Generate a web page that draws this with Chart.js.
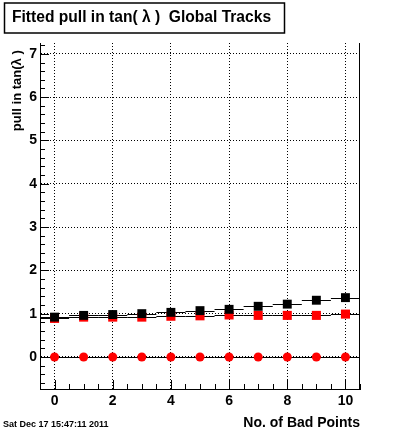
<!DOCTYPE html>
<html><head><meta charset="utf-8">
<script src="https://cdn.jsdelivr.net/npm/chart.js@4/dist/chart.umd.min.js"></script>
<style>html,body{margin:0;padding:0;background:#fff}</style>
</head><body>
<canvas id="c" width="400" height="433" style="display:block;width:400px;height:433px"></canvas>
<script>
const badPoints = [0, 1, 2, 3, 4, 5, 6, 7, 8, 9, 10];
const meanPull  = [0.92, 0.96, 0.98, 1.00, 1.03, 1.07, 1.10, 1.17, 1.22, 1.31, 1.37];
const sigmaPull = [0.89, 0.92, 0.92, 0.92, 0.94, 0.95, 0.97, 0.96, 0.96, 0.96, 0.99];
const zeroPull  = [0, 0, 0, 0, 0, 0, 0, 0, 0, 0, 0];
const xTickLabels = ['0', '2', '4', '6', '8', '10'];
const yTickLabels = ['0', '1', '2', '3', '4', '5', '6', '7'];
const titleText = 'Fitted pull in tan( \u03BB )  Global Tracks';
const yTitleText = 'pull in tan(\u03BB )\u00A0\u00A0';
const xTitleText = 'No. of Bad Points';
const dateText = 'Sat Dec 17 15:47:11 2011';

const FONT = '"Liberation Sans", Arial, Helvetica, sans-serif';

function pts(ys) { return badPoints.map((x, i) => ({x: x, y: ys[i]})); }

const binBars = {
  id: 'binBars',
  beforeDatasetsDraw(chart) {
    const ctx = chart.ctx, xs = chart.scales.x, ys = chart.scales.y;
    ctx.save();
    ctx.strokeStyle = '#000';
    ctx.lineWidth = 1;
    chart.data.datasets.forEach(ds => {
      ds.data.forEach(p => {
        const y = Math.round(ys.getPixelForValue(p.y)) + 0.5;
        ctx.beginPath();
        ctx.moveTo(xs.getPixelForValue(p.x - 0.5), y);
        ctx.lineTo(xs.getPixelForValue(p.x + 0.5), y);
        ctx.stroke();
      });
    });
    ctx.restore();
  }
};

const frameTicks = {
  id: 'frameTicks',
  afterDraw(chart) {
    const ctx = chart.ctx, xs = chart.scales.x, ys = chart.scales.y, a = chart.chartArea;
    ctx.save();
    ctx.strokeStyle = '#000';
    ctx.lineWidth = 1;
    const rx = Math.round(a.right) - 0.5;
    ctx.beginPath(); ctx.moveTo(rx, a.top); ctx.lineTo(rx, a.bottom); ctx.stroke();
    for (let k = 0; k <= 22; k++) {
      const v = -0.5 + k * 0.5;
      const major = Math.abs(v % 2) < 1e-9;
      const px = Math.round(xs.getPixelForValue(v)) + 0.5;
      const len = major ? 9 : 5;
      ctx.beginPath(); ctx.moveTo(px, a.bottom); ctx.lineTo(px, a.bottom - len); ctx.stroke();
    }
    for (let k = -3; k <= 36; k++) {
      const v = k * 0.2;
      const major = (k % 5) === 0;
      const py = Math.round(ys.getPixelForValue(v)) + 0.5;
      const len = major ? 9 : 5;
      ctx.beginPath(); ctx.moveTo(a.left, py); ctx.lineTo(a.left + len, py); ctx.stroke();
    }
    ctx.lineWidth = 1.5;
    ctx.strokeRect(4.5, 3, 280, 30);
    ctx.fillStyle = '#000';
    ctx.font = 'bold 9px ' + FONT;
    ctx.textBaseline = 'middle';
    ctx.textAlign = 'left';
    ctx.fillText(dateText, 3, 424.5);
    ctx.restore();
  }
};

new Chart(document.getElementById('c'), {
  type: 'scatter',
  data: {
    datasets: [
      { label: 'mean', data: pts(meanPull), pointStyle: 'rect', pointRadius: 6.3,
        backgroundColor: '#000', borderColor: '#000', borderWidth: 0 },
      { label: 'sigma', data: pts(sigmaPull), pointStyle: 'rect', pointRadius: 6.4,
        backgroundColor: '#ff0000', borderColor: '#ff0000', borderWidth: 0 },
      { label: 'zero', data: pts(zeroPull), pointStyle: 'circle', pointRadius: 4.5,
        backgroundColor: '#ff0000', borderColor: '#ff0000', borderWidth: 0 }
    ]
  },
  options: {
    responsive: false,
    animation: false,
    events: [],
    layout: { padding: { left: 12, right: 40, top: 0, bottom: 0 } },
    plugins: {
      legend: { display: false },
      tooltip: { enabled: false },
      title: {
        display: true, text: titleText, align: 'start', color: '#000',
        font: { family: FONT, size: 15.6, weight: 'bold', lineHeight: 1.2 },
        padding: { top: 8, bottom: 16.3 }
      }
    },
    scales: {
      x: {
        type: 'linear', min: -0.5, max: 10.5,
        afterFit(s) { s.height = 44; },
        grid: { color: '#000', lineWidth: 1, drawTicks: false },
        border: { display: true, color: '#000', width: 1, dash: [1, 2] },
        ticks: {
          stepSize: 2, includeBounds: false, color: '#000', padding: 4,
          font: { family: FONT, size: 14, weight: 'bold' },
          callback: (v) => xTickLabels.includes(String(v)) ? String(v) : ''
        },
        title: {
          display: true, text: xTitleText, align: 'end', color: '#000',
          font: { family: FONT, size: 14, weight: 'bold' },
          padding: { top: 0, bottom: 1.5 }
        }
      },
      y: {
        type: 'linear', min: -0.74, max: 7.25,
        afterFit(s) { s.width = 28; },
        grid: { color: '#000', lineWidth: 1, drawTicks: false },
        border: { display: true, color: '#000', width: 1, dash: [1, 2] },
        ticks: {
          stepSize: 1, includeBounds: false, color: '#000', padding: 3,
          font: { family: FONT, size: 14, weight: 'bold' },
          callback: (v) => yTickLabels.includes(String(v)) ? String(v) : ''
        },
        title: {
          display: true, text: yTitleText, align: 'end', color: '#000',
          font: { family: FONT, size: 13, weight: 'bold' },
          padding: { top: -2, bottom: 0 }
        }
      }
    }
  },
  plugins: [binBars, frameTicks]
});
</script>
</body></html>
